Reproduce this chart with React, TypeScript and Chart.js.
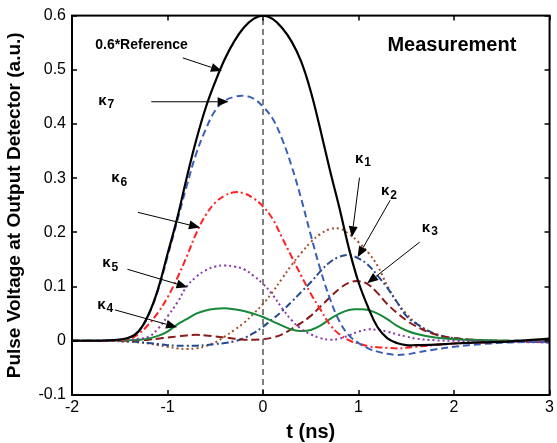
import React, { useEffect, useRef } from "react";
import { Chart, registerables } from "chart.js";

Chart.register(...registerables);

// ---- data ----
const T = [-2, -1.6, -1.4, -1.3, -1.2, -1.1, -1.0, -0.9, -0.8, -0.7, -0.6, -0.5, -0.4, -0.3, -0.2, -0.1, 0, 0.1, 0.2, 0.3, 0.4, 0.5, 0.6, 0.7, 0.8, 0.9, 1.0, 1.1, 1.2, 1.3, 1.4, 1.5, 1.6, 1.8, 2.0, 2.3, 2.6, 3.0];

const reference = [0, 0.001, 0.006, 0.018, 0.048, 0.095, 0.16, 0.225, 0.3, 0.37, 0.43, 0.478, 0.52, 0.553, 0.578, 0.594, 0.6, 0.594, 0.577, 0.552, 0.515, 0.46, 0.39, 0.315, 0.245, 0.17, 0.108, 0.062, 0.025, 0.005, -0.004, -0.008, -0.008, -0.007, -0.005, -0.003, -0.001, 0.004];
const k7 = [0, 0.001, 0.006, 0.018, 0.047, 0.093, 0.155, 0.22, 0.285, 0.345, 0.39, 0.425, 0.443, 0.45, 0.452, 0.447, 0.432, 0.41, 0.372, 0.322, 0.262, 0.195, 0.132, 0.078, 0.036, 0.01, -0.004, -0.014, -0.02, -0.024, -0.026, -0.025, -0.022, -0.016, -0.011, -0.006, -0.003, -0.001];
const k6 = [0, 0, 0.004, 0.013, 0.03, 0.052, 0.08, 0.115, 0.155, 0.198, 0.232, 0.255, 0.268, 0.274, 0.272, 0.263, 0.248, 0.225, 0.19, 0.155, 0.12, 0.087, 0.058, 0.03, 0.012, 0.001, -0.005, -0.01, -0.012, -0.013, -0.014, -0.013, -0.011, -0.008, -0.005, -0.003, -0.001, 0];
const k5 = [0, 0, 0.002, 0.004, 0.007, 0.022, 0.045, 0.07, 0.1, 0.118, 0.13, 0.137, 0.139, 0.137, 0.132, 0.12, 0.105, 0.085, 0.06, 0.038, 0.022, 0.012, 0.005, 0.002, 0.004, 0.01, 0.017, 0.021, 0.02, 0.017, 0.012, 0.008, 0.004, 0.001, 0, -0.001, -0.002, -0.003];
const k4 = [0, 0, 0.001, 0.002, 0.004, 0.009, 0.017, 0.03, 0.04, 0.05, 0.056, 0.059, 0.06, 0.058, 0.055, 0.05, 0.044, 0.036, 0.028, 0.021, 0.018, 0.02, 0.028, 0.04, 0.05, 0.057, 0.058, 0.057, 0.05, 0.04, 0.028, 0.019, 0.013, 0.006, 0.003, 0.001, 0, 0];
const k3 = [0, 0, 0, 0.001, 0.002, 0.004, 0.006, 0.008, 0.01, 0.011, 0.01, 0.008, 0.006, 0.004, 0.002, 0.002, 0.003, 0.006, 0.012, 0.022, 0.033, 0.046, 0.063, 0.08, 0.096, 0.107, 0.11, 0.104, 0.088, 0.068, 0.052, 0.038, 0.027, 0.012, 0.005, 0.001, 0, -0.002];
const k2 = [0, 0, -0.001, -0.002, -0.004, -0.006, -0.008, -0.009, -0.009, -0.009, -0.008, -0.006, -0.004, -0.001, 0.005, 0.014, 0.026, 0.04, 0.055, 0.072, 0.09, 0.108, 0.128, 0.145, 0.155, 0.158, 0.152, 0.14, 0.12, 0.098, 0.072, 0.046, 0.032, 0.013, 0.005, 0.001, -0.001, -0.003];
const k1 = [0, 0, -0.002, -0.003, -0.005, -0.008, -0.011, -0.014, -0.015, -0.014, -0.01, -0.003, 0.008, 0.02, 0.033, 0.05, 0.068, 0.09, 0.115, 0.14, 0.162, 0.182, 0.197, 0.206, 0.207, 0.197, 0.182, 0.163, 0.138, 0.102, 0.072, 0.05, 0.033, 0.012, 0.004, 0, -0.001, -0.003];

const zeroLineT = [0, 0];
const zeroLineV = [-0.1, 0.6];

const xTicks = [-2, -1, 0, 1, 2, 3];
const yTicks = [-0.1, 0, 0.1, 0.2, 0.3, 0.4, 0.5, 0.6];

// annotations: label text, subscript, text anchor (t, v), arrow from (t, v) to (t, v)
const annoLabels = ["0.6*Reference", "κ", "κ", "κ", "κ", "κ", "κ", "κ"];
const annoSubs = ["", "7", "6", "5", "4", "1", "2", "3"];
const annoTextT = [-1.757, -1.726, -1.59, -1.684, -1.736, 0.962, 1.234, 1.663];
const annoTextV = [0.546, 0.443, 0.3, 0.143, 0.066, 0.336, 0.276, 0.208];
const annoFromT = [-0.84, -1.17, -1.31, -1.42, -1.55, 1.01, 1.33, 1.64];
const annoFromV = [0.522, 0.441, 0.237, 0.132, 0.057, 0.301, 0.259, 0.182];
const annoToT = [-0.43, -0.36, -0.66, -0.79, -0.9, 0.93, 0.99, 1.09];
const annoToV = [0.498, 0.441, 0.209, 0.099, 0.025, 0.191, 0.154, 0.106];

const titleText = "Measurement";
const titleT = 1.977;
const titleV = 0.545;

const pts = (vals: number[]) => T.map((t, i) => ({ x: t, y: vals[i] }));

const FONT = "'Liberation Sans', Arial, sans-serif";

const framePlugin = {
  id: "frame",
  afterDraw(chart: any) {
    const { ctx, chartArea: a, scales } = chart;
    const xs = scales.x;
    const ys = scales.y;
    ctx.save();
    ctx.strokeStyle = "#000";
    ctx.lineWidth = 2;
    ctx.strokeRect(a.left, a.top, a.right - a.left, a.bottom - a.top);
    ctx.lineWidth = 1.5;
    const L = 5;
    ctx.beginPath();
    xTicks.forEach((t) => {
      const px = Math.round(xs.getPixelForValue(t));
      ctx.moveTo(px, a.bottom);
      ctx.lineTo(px, a.bottom - L);
      ctx.moveTo(px, a.top);
      ctx.lineTo(px, a.top + L);
    });
    yTicks.forEach((v) => {
      const py = Math.round(ys.getPixelForValue(v));
      ctx.moveTo(a.left, py);
      ctx.lineTo(a.left + L, py);
      ctx.moveTo(a.right, py);
      ctx.lineTo(a.right - L, py);
    });
    ctx.stroke();

    // annotations
    ctx.fillStyle = "#000";
    ctx.textBaseline = "middle";
    annoLabels.forEach((lab, i) => {
      const tx = xs.getPixelForValue(annoTextT[i]);
      const ty = ys.getPixelForValue(annoTextV[i]);
      ctx.textAlign = "left";
      if (annoSubs[i]) {
        ctx.font = `bold 15px ${FONT}`;
        ctx.fillText(lab, tx, ty);
        const w = ctx.measureText(lab).width;
        ctx.font = `bold 12px ${FONT}`;
        ctx.fillText(annoSubs[i], tx + w + 1, ty + 4);
      } else {
        ctx.font = `bold 14px ${FONT}`;
        ctx.fillText(lab, tx, ty);
      }
      const x1 = xs.getPixelForValue(annoFromT[i]);
      const y1 = ys.getPixelForValue(annoFromV[i]);
      const x2 = xs.getPixelForValue(annoToT[i]);
      const y2 = ys.getPixelForValue(annoToV[i]);
      const ang = Math.atan2(y2 - y1, x2 - x1);
      const hl = 11;
      const hw = 4.5;
      const bx = x2 - hl * Math.cos(ang);
      const by = y2 - hl * Math.sin(ang);
      ctx.lineWidth = 1;
      ctx.strokeStyle = "#000";
      ctx.beginPath();
      ctx.moveTo(x1, y1);
      ctx.lineTo(bx, by);
      ctx.stroke();
      ctx.beginPath();
      ctx.moveTo(x2, y2);
      ctx.lineTo(bx + hw * Math.sin(ang), by - hw * Math.cos(ang));
      ctx.lineTo(bx - hw * Math.sin(ang), by + hw * Math.cos(ang));
      ctx.closePath();
      ctx.fill();
    });

    ctx.font = `bold 20px ${FONT}`;
    ctx.textAlign = "center";
    ctx.fillText(titleText, xs.getPixelForValue(titleT), ys.getPixelForValue(titleV));
    ctx.restore();
  },
};

export default function App() {
  const ref = useRef<HTMLCanvasElement | null>(null);
  useEffect(() => {
    document.body.style.margin = "0";
    if (!ref.current) return;
    const line = (label: string, data: number[], color: string, dash: number[], width = 2) => ({
      label,
      data: pts(data),
      borderColor: color,
      backgroundColor: color,
      borderWidth: width,
      borderDash: dash,
      pointRadius: 0,
      fill: false,
      tension: 0.4,
    });
    const chart = new Chart(ref.current, {
      type: "line",
      data: {
        datasets: [
          line("0.6*Reference", reference, "#000000", [], 2.2),
          line("κ7", k7, "#3b5fb8", [7, 4]),
          line("κ6", k6, "#ff2222", [7, 3, 2, 3]),
          line("κ5", k5, "#8a3aa8", [2, 3]),
          line("κ4", k4, "#17883a", []),
          line("κ3", k3, "#8b1a1a", [8, 4]),
          line("κ2", k2, "#23498f", [7, 3, 2, 3]),
          line("κ1", k1, "#a0522d", [2, 3]),
          {
            label: "t=0",
            data: zeroLineT.map((t, i) => ({ x: t, y: zeroLineV[i] })),
            borderColor: "#000",
            borderWidth: 1,
            borderDash: [6, 4],
            pointRadius: 0,
            fill: false,
          },
        ],
      },
      options: {
        animation: false,
        responsive: false,
        layout: { padding: { left: 0, right: 7, top: 15, bottom: 0 } },
        plugins: { legend: { display: false }, tooltip: { enabled: false } },
        scales: {
          x: {
            type: "linear",
            min: -2,
            max: 3,
            afterFit: (s: any) => {
              s.height = 48;
            },
            afterBuildTicks: (s: any) => {
              s.ticks = xTicks.map((v) => ({ value: v }));
            },
            ticks: {
              color: "#000",
              font: { family: FONT, size: 16 },
              padding: 3,
              maxRotation: 0,
              autoSkip: false,
              callback: (v: any) => String(v),
            },
            grid: { display: false, drawTicks: false },
            border: { display: false },
            title: {
              display: true,
              text: "t (ns)",
              color: "#000",
              font: { family: FONT, size: 20, weight: "bold", lineHeight: 1 },
              padding: { top: 0, bottom: 1 },
            },
          },
          y: {
            type: "linear",
            min: -0.1,
            max: 0.6,
            afterFit: (s: any) => {
              s.width = 72;
            },
            afterBuildTicks: (s: any) => {
              s.ticks = yTicks.map((v) => ({ value: v }));
            },
            ticks: {
              color: "#000",
              font: { family: FONT, size: 16 },
              padding: 6,
              autoSkip: false,
              callback: (v: any) => String(Number(Number(v).toFixed(1))),
            },
            grid: { display: false, drawTicks: false },
            border: { display: false },
            title: {
              display: true,
              text: "Pulse Voltage at Output Detector (a.u.)",
              color: "#000",
              font: { family: FONT, size: 19, weight: "bold", lineHeight: 1 },
              padding: { top: 5, bottom: 0 },
            },
          },
        },
      },
      plugins: [framePlugin],
    } as any);
    return () => chart.destroy();
  }, []);
  return (
    <div style={{ width: 557, height: 443, background: "#fff" }}>
      <canvas ref={ref} width={557} height={443} style={{ width: 557, height: 443, display: "block" }} />
    </div>
  );
}
